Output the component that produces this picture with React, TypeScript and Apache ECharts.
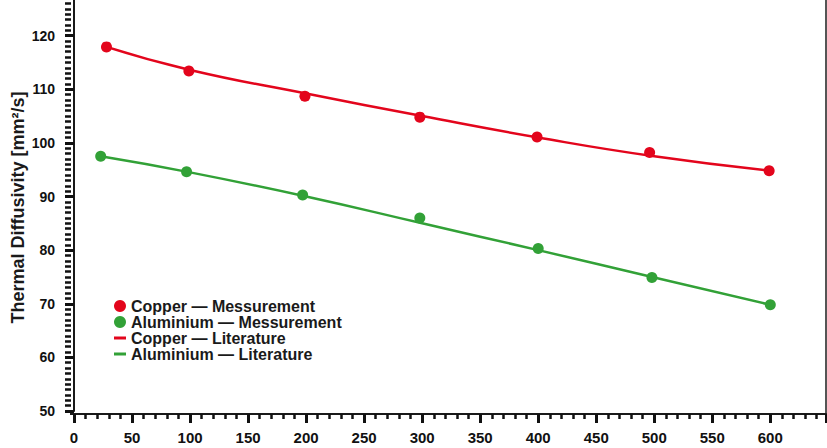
import React, { useEffect, useRef } from "react";
import * as echarts from "echarts";

const copperMeasT = [28, 99, 199, 298, 399, 496, 599];
const copperMeas = [117.9, 113.4, 108.7, 104.8, 101.1, 98.2, 94.8];
const aluMeasT = [23, 97, 197, 298, 400, 498, 600];
const aluMeas = [97.5, 94.6, 90.3, 86.0, 80.3, 74.9, 69.8];

const copperLitT = [28, 100, 200, 300, 400, 500, 600];
const copperLit = [117.9, 113.6, 109.2, 105.0, 101.0, 97.5, 94.8];
const aluLitT = [23, 100, 200, 300, 400, 500, 600];
const aluLit = [97.5, 94.5, 90.0, 85.0, 80.0, 74.9, 69.8];

const seriesNames = [
  "Copper — Messurement",
  "Aluminium — Messurement",
  "Copper — Literature",
  "Aluminium — Literature",
];
const yAxisName = "Thermal Diffusivity [mm²/s]";

const RED = "#e3051c";
const GREEN = "#32a137";
const FONT = "Liberation Sans, Arial, sans-serif";
const LINE_ICON = "path://M0,0H12V3H0Z";

const zip = (xs: number[], ys: number[]) => xs.map((x, i) => [x, ys[i]]);

export default function App() {
  const ref = useRef<HTMLDivElement>(null);
  useEffect(() => {
    if (!ref.current) return;
    const chart = echarts.init(ref.current, null, { renderer: "svg" });
    chart.setOption({
      animation: false,
      backgroundColor: "#ffffff",
      grid: { left: 74, right: 1, top: -18, bottom: 37, outerBoundsMode: "none", containLabel: false },
      legend: {
        orient: "vertical",
        left: 109,
        top: 293,
        padding: 5,
        itemWidth: 12,
        itemHeight: 12,
        itemGap: 0,
        symbolKeepAspect: true,
        textStyle: { fontFamily: FONT, fontWeight: "bold", fontSize: 16, color: "#1a1a1a" },
        data: [
          { name: seriesNames[0], icon: "circle" },
          { name: seriesNames[1], icon: "circle" },
          { name: seriesNames[2], icon: LINE_ICON },
          { name: seriesNames[3], icon: LINE_ICON },
        ],
      },
      xAxis: {
        type: "value",
        min: 0,
        max: 648,
        interval: 50,
        offset: 3,
        axisLine: { show: true, lineStyle: { color: "#1a1a1a", width: 2 } },
        axisTick: { show: true, inside: false, length: 9, lineStyle: { color: "#111", width: 3 } },
        minorTick: { show: true, splitNumber: 5, length: 5, lineStyle: { color: "#111", width: 2.5 } },
        splitLine: { show: false },
        minorSplitLine: { show: false },
        axisLabel: {
          margin: 16,
          fontFamily: FONT,
          fontWeight: "bold",
          fontSize: 15,
          color: "#111",
          formatter: (v: number) => (v % 50 === 0 && v <= 600 ? String(v) : ""),
        },
      },
      yAxis: [
        {
          type: "value",
          min: 50,
          max: 130,
          interval: 10,
          offset: 3,
          name: yAxisName,
          nameLocation: "middle",
          nameGap: 44,
          nameRotate: 90,
          nameMoveOverlap: false,
          nameTextStyle: {
            fontFamily: FONT,
            fontWeight: "bold",
            fontSize: 18,
            color: "#1a1a1a",
            padding: [0, 22, 0, 0],
          },
          axisLine: { show: true, lineStyle: { color: "#1a1a1a", width: 2 } },
          axisTick: { show: true, inside: false, length: 9, lineStyle: { color: "#111", width: 3 } },
          minorTick: { show: false },
          splitLine: { show: false },
          minorSplitLine: { show: false },
          axisLabel: {
            margin: 16,
            fontFamily: FONT,
            fontWeight: "bold",
            fontSize: 14,
            color: "#111",
            formatter: (v: number) => (v % 10 === 0 && v <= 120 ? String(v) : ""),
          },
        },
        {
          type: "value",
          position: "right",
          min: 50,
          max: 130,
          interval: 10,
          axisLine: { show: true, lineStyle: { color: "#555", width: 2 } },
          axisTick: { show: false },
          axisLabel: { show: false },
          splitLine: { show: false },
        },
        {
          type: "value",
          position: "left",
          min: 50,
          max: 130,
          interval: 1,
          offset: 3,
          axisLine: { show: false },
          axisTick: { show: true, inside: false, length: 6, lineStyle: { color: "#111", width: 2.5 } },
          axisLabel: { show: false },
          splitLine: { show: false },
        },
      ],
      graphic: [
        { type: "line", shape: { x1: 71, y1: 410, x2: 71, y2: 415 }, style: { stroke: "#1a1a1a", lineWidth: 2 } },
        { type: "line", shape: { x1: 70, y1: 414, x2: 75, y2: 414 }, style: { stroke: "#1a1a1a", lineWidth: 2 } },
        { type: "line", shape: { x1: 826, y1: 410, x2: 826, y2: 415 }, style: { stroke: "#555", lineWidth: 2 } },
      ],
      series: [
        {
          name: seriesNames[2],
          type: "line",
          smooth: true,
          symbol: "none",
          showSymbol: false,
          lineStyle: { color: RED, width: 2.5 },
          itemStyle: { color: RED },
          data: zip(copperLitT, copperLit),
          z: 2,
        },
        {
          name: seriesNames[3],
          type: "line",
          smooth: true,
          symbol: "none",
          showSymbol: false,
          lineStyle: { color: GREEN, width: 2.5 },
          itemStyle: { color: GREEN },
          data: zip(aluLitT, aluLit),
          z: 2,
        },
        {
          name: seriesNames[0],
          type: "scatter",
          symbol: "circle",
          symbolSize: 11,
          itemStyle: { color: RED, opacity: 1 },
          data: zip(copperMeasT, copperMeas),
          z: 3,
        },
        {
          name: seriesNames[1],
          type: "scatter",
          symbol: "circle",
          symbolSize: 11,
          itemStyle: { color: GREEN, opacity: 1 },
          data: zip(aluMeasT, aluMeas),
          z: 3,
        },
      ],
    });
    return () => chart.dispose();
  }, []);
  return (
    <div
      ref={ref}
      style={{ position: "fixed", left: 0, top: 0, width: 827, height: 448, background: "#fff" }}
    />
  );
}
